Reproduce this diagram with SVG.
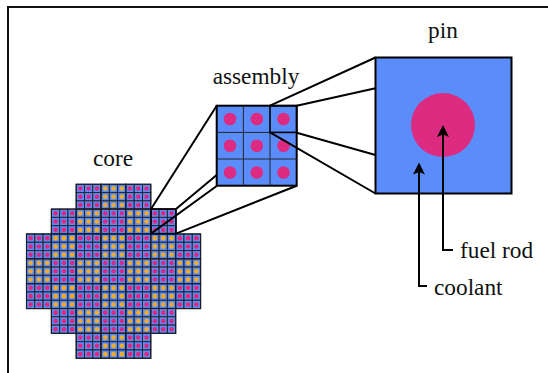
<svg xmlns="http://www.w3.org/2000/svg" width="548" height="373" viewBox="0 0 548 373">
<style>
text{font-family:"Liberation Serif","Times New Roman",serif;font-size:23.3px;fill:#111}
.ln{fill:none;stroke:#000;stroke-width:2}
.cell{fill:#5b8dfa;stroke:#23252e;stroke-width:1}
.outer{fill:none;stroke:#1c1d24;stroke-width:1.2}
.p{fill:#e0267e}.o{fill:#f7ab22}
.rod{fill:#dc2b80}
</style>
<defs>
<g id="gc"><rect class="cell" x="0" y="0" width="8.29" height="8.29"/></g>
<g id="pp"><use href="#gc"/><circle class="p" cx="4.15" cy="4.15" r="2.3"/></g>
<g id="po"><use href="#gc"/><circle class="o" cx="4.15" cy="4.15" r="2.3"/></g>
<g id="ap"><use href="#pp"/><use href="#pp" x="8.29"/><use href="#pp" x="16.58"/><use href="#pp" y="8.29"/><use href="#pp" x="8.29" y="8.29"/><use href="#pp" x="16.58" y="8.29"/><use href="#pp" y="16.58"/><use href="#pp" x="8.29" y="16.58"/><use href="#pp" x="16.58" y="16.58"/><rect class="outer" width="24.87" height="24.87"/></g>
<g id="ao"><use href="#po"/><use href="#po" x="8.29"/><use href="#po" x="16.58"/><use href="#po" y="8.29"/><use href="#po" x="8.29" y="8.29"/><use href="#po" x="16.58" y="8.29"/><use href="#po" y="16.58"/><use href="#po" x="8.29" y="16.58"/><use href="#po" x="16.58" y="16.58"/><rect class="outer" width="24.87" height="24.87"/></g>
<marker id="ah" markerUnits="userSpaceOnUse" markerWidth="14" markerHeight="14" refX="7" refY="6" orient="auto"><path d="M0 0L12 6L0 12L2.5 6Z" fill="#000"/></marker>
</defs>
<path id="frame" d="M8 373V7H548" fill="none" stroke="#111" stroke-width="2"/>
<g id="core">
<use href="#ap" x="76.2" y="184.3"/><use href="#ao" x="101.1" y="184.3"/><use href="#ap" x="125.9" y="184.3"/>
<use href="#ap" x="51.4" y="209.1"/><use href="#ao" x="76.2" y="209.1"/><use href="#ap" x="101.1" y="209.1"/><use href="#ao" x="125.9" y="209.1"/><use href="#ap" x="150.8" y="209.1"/>
<use href="#ap" x="26.5" y="234"/><use href="#ao" x="51.4" y="234"/><use href="#ap" x="76.2" y="234"/><use href="#ao" x="101.1" y="234"/><use href="#ap" x="125.9" y="234"/><use href="#ao" x="150.8" y="234"/><use href="#ap" x="175.7" y="234"/>
<use href="#ao" x="26.5" y="258.8"/><use href="#ap" x="51.4" y="258.8"/><use href="#ao" x="76.2" y="258.8"/><use href="#ap" x="101.1" y="258.8"/><use href="#ao" x="125.9" y="258.8"/><use href="#ap" x="150.8" y="258.8"/><use href="#ao" x="175.7" y="258.8"/>
<use href="#ap" x="26.5" y="283.7"/><use href="#ao" x="51.4" y="283.7"/><use href="#ap" x="76.2" y="283.7"/><use href="#ao" x="101.1" y="283.7"/><use href="#ap" x="125.9" y="283.7"/><use href="#ao" x="150.8" y="283.7"/><use href="#ap" x="175.7" y="283.7"/>
<use href="#ap" x="51.4" y="308.5"/><use href="#ao" x="76.2" y="308.5"/><use href="#ap" x="101.1" y="308.5"/><use href="#ao" x="125.9" y="308.5"/><use href="#ap" x="150.8" y="308.5"/>
<use href="#ap" x="76.2" y="333.4"/><use href="#ao" x="101.1" y="333.4"/><use href="#ap" x="125.9" y="333.4"/>
<rect x="151" y="209" width="25" height="24.6" fill="none" stroke="#000" stroke-width="1.6"/>
<text x="113" y="166" text-anchor="middle">core</text>
</g>
<g id="assembly">
<rect x="216.7" y="105.7" width="80" height="80" fill="#5b8dfa" stroke="#000" stroke-width="2"/>
<path d="M243.4 105.7V185.7M270 132.4V185.7M216.7 132.4H270M216.7 159H296.7" fill="none" stroke="#23252e" stroke-width="1"/>
<g class="rod"><circle cx="230" cy="119" r="6.3"/><circle cx="256.8" cy="119" r="6.3"/><circle cx="283.5" cy="119" r="6.3"/><circle cx="230" cy="145.8" r="6.3"/><circle cx="256.8" cy="145.8" r="6.3"/><circle cx="283.5" cy="145.8" r="6.3"/><circle cx="230" cy="172.5" r="6.3"/><circle cx="256.8" cy="172.5" r="6.3"/><circle cx="283.5" cy="172.5" r="6.3"/></g>
<rect x="270" y="105.7" width="26.7" height="26.7" fill="none" stroke="#000" stroke-width="1.6"/>
<text x="256" y="84" text-anchor="middle">assembly</text>
</g>
<g id="pin">
<rect x="375.5" y="57.5" width="136" height="136" fill="#5b8dfa" stroke="#000" stroke-width="2"/>
<circle class="rod" cx="443" cy="125" r="32"/>
<text x="443" y="38" text-anchor="middle">pin</text>
</g>
<g id="connectors">
<path class="ln" d="M151 209L216.7 105.7M176 209L216.7 175M151 233.6L216.7 186M176 233.6L296.7 185.7"/>
<path class="ln" d="M270 105.7L375.5 57.5M296.7 105.7L375.5 88.3M296.7 132.7L375.5 155M270 132.4L375.5 193.5"/>
<path class="ln" d="M453 250H443V130" marker-end="url(#ah)"/>
<path class="ln" d="M427 286H419V167.5" marker-end="url(#ah)"/>
</g>
<g id="labels">
<text x="460" y="258">fuel rod</text>
<text x="434" y="295">coolant</text>
</g>
</svg>
